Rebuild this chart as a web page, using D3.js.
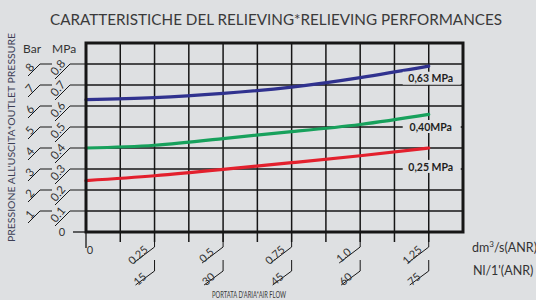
<!DOCTYPE html>
<html>
<head>
<meta charset="utf-8">
<script src="https://cdn.jsdelivr.net/npm/d3@7"></script>
<style>
  html, body { margin: 0; padding: 0; background: #dee0e2; }
  svg { display: block; }
</style>
</head>
<body>
<script>
// flow values (dm3/s ANR)
let flow = [0, 0.25, 0.5, 0.75, 1.0, 1.25]
let p063 = [0.63, 0.64, 0.66, 0.69, 0.735, 0.79]
let p040 = [0.40, 0.413, 0.445, 0.478, 0.512, 0.56]
let p025 = [0.245, 0.268, 0.298, 0.33, 0.363, 0.40]

let seriesNames = ['0,63 MPa', '0,40MPa', '0,25 MPa']
let seriesColors = ['#30328f', '#17a15c', '#e3202d']

let xTicks = [0.25, 0.5, 0.75, 1.0, 1.25]
let xTickLabels = ['0.25', '0.5', '0.75', '1.0', '1.25']
let nlTickLabels = ['15', '30', '45', '60', '75']
let yTicks = [0.1, 0.2, 0.3, 0.4, 0.5, 0.6, 0.7, 0.8]
let barLabels = ['1', '2', '3', '4', '5', '6', '7', '8']
let mpaLabels = ['0.1', '0.2', '0.3', '0.4', '0.5', '0.6', '0.7', '0.8']

let width = 536
let height = 300
let margin = ({top: 43, right: 73, bottom: 68, left: 86})

let x = d3.scaleLinear()
    .domain([0, 1.375])
    .range([margin.left, width - margin.right])

let y = d3.scaleLinear()
    .domain([0, 0.9])
    .range([height - margin.bottom, margin.top])

const svg = d3.select('body').append('svg')
    .attr('width', width)
    .attr('height', height)
    .attr('viewBox', [0, 0, width, height])
    .style('font-family', 'Lato, "Open Sans", sans-serif')

const ink = '#161616'
const textCol = '#333'

// grid
svg.append('g')
    .attr('stroke', ink)
    .attr('stroke-width', 1.5)
  .selectAll('line')
  .data(d3.range(1, 11).map(i => i * 0.125))
  .join('line')
    .attr('x1', d => x(d)).attr('x2', d => x(d))
    .attr('y1', y(0)).attr('y2', y(0) + 10)
    .clone()
    .attr('y1', y(0.9)).attr('y2', y(0))

svg.append('g')
    .attr('stroke', ink)
    .attr('stroke-width', 1.5)
  .selectAll('line')
  .data(yTicks)
  .join('line')
    .attr('x1', x(0)).attr('x2', x(1.375))
    .attr('y1', d => y(d)).attr('y2', d => y(d))

// curves
let line = d3.line()
    .x((d, i) => x(flow[i]))
    .y(d => y(d))
    .curve(d3.curveNatural)

svg.append('g')
    .attr('fill', 'none')
    .attr('stroke-width', 3.2)
    .attr('stroke-linecap', 'round')
  .selectAll('path')
  .data([p063, p040, p025])
  .join('path')
    .attr('stroke', (d, i) => seriesColors[i])
    .attr('d', line)

// frame
svg.append('rect')
    .attr('x', x(0)).attr('y', y(0.9))
    .attr('width', x(1.375) - x(0))
    .attr('height', y(0) - y(0.9))
    .attr('fill', 'none')
    .attr('stroke', ink)
    .attr('stroke-width', 3)

// origin leaders
svg.append('line')
    .attr('x1', x(0) - 13).attr('x2', x(0))
    .attr('y1', y(0)).attr('y2', y(0))
    .attr('stroke', ink).attr('stroke-width', 1.3)
svg.append('line')
    .attr('x1', x(0)).attr('x2', x(0))
    .attr('y1', y(0)).attr('y2', y(0) + 16)
    .attr('stroke', ink).attr('stroke-width', 1.3)
svg.append('text')
    .attr('x', x(0) - 24).attr('y', y(0) + 4)
    .attr('fill', textCol).style('font-size', '11px')
    .attr('text-anchor', 'middle')
    .text('0')
svg.append('text')
    .attr('x', x(0) + 4).attr('y', y(0) + 22)
    .attr('fill', textCol).style('font-size', '11px')
    .attr('text-anchor', 'middle')
    .text('0')

// y tick leaders, Bar and MPa
let yAxis = svg.append('g')
    .attr('stroke', ink).attr('stroke-width', 1)
    .style('font-size', '11.5px')

function yLeader(g, xh0, xh1, len, labels, tx, rot) {
  let t = g.append('g').selectAll('g').data(yTicks).join('g')
  t.append('path')
      .attr('fill', 'none')
      .attr('d', d => `M${xh1},${y(d)}H${xh0}l${-len},${len}`)
  t.append('text')
      .attr('stroke', 'none')
      .attr('fill', textCol)
      .attr('text-anchor', 'middle')
      .attr('transform', d => `translate(${tx},${y(d) + 6}) rotate(${rot})`)
      .text((d, i) => labels[i])
}
yLeader(yAxis, 40, 52, 12, barLabels, 33, -50)
yLeader(yAxis, 70, x(0), 15, mpaLabels, 61, -50)

svg.append('text').attr('x', 23).attr('y', 53)
    .attr('fill', textCol).style('font-size', '12px').text('Bar')
svg.append('text').attr('x', 52).attr('y', 53)
    .attr('fill', textCol).style('font-size', '12px').text('MPa')

// x tick leaders
let xAxis = svg.append('g')
    .attr('stroke', ink).attr('stroke-width', 1)
    .style('font-size', '11px')
let xt = xAxis.selectAll('g').data(xTicks).join('g')
xt.append('path')
    .attr('fill', 'none')
    .attr('d', d => `M${x(d)},${y(0)}V${y(0) + 15}l-21,16`)
xt.append('path')
    .attr('fill', 'none')
    .attr('d', d => `M${x(d)},${y(0) + 28}v11l-19,14`)
xt.append('text')
    .attr('stroke', 'none').attr('fill', textCol)
    .attr('text-anchor', 'middle')
    .attr('transform', d => `translate(${x(d) - 14},${y(0) + 26}) rotate(-42)`)
    .text((d, i) => xTickLabels[i])
xt.append('text')
    .attr('stroke', 'none').attr('fill', textCol)
    .attr('text-anchor', 'middle')
    .attr('transform', d => `translate(${x(d) - 12},${y(0) + 50}) rotate(-42)`)
    .text((d, i) => nlTickLabels[i])

// curve labels with background boxes
let labelY = [y(0.73), y(0.5), y(0.31)]
let lab = svg.append('g').selectAll('g').data(seriesNames).join('g')
    .attr('transform', (d, i) => `translate(${x(1.25) + 2},${labelY[i]})`)
lab.append('rect')
    .attr('x', -28).attr('y', -7)
    .attr('width', 58).attr('height', 13)
    .attr('fill', '#dee0e2')
lab.append('text')
    .attr('text-anchor', 'middle')
    .attr('dy', '0.35em')
    .attr('fill', '#1e1e1e')
    .style('font-size', '10.5px')
    .style('font-weight', 'bold')
    .text(d => d)

// units
svg.append('text').attr('x', 472).attr('y', 252)
    .attr('fill', textCol).style('font-size', '12.5px')
    .html('dm<tspan dy="-5" font-size="8">3</tspan><tspan dy="5">/s(ANR)</tspan>')
svg.append('text').attr('x', 473).attr('y', 275)
    .attr('fill', textCol).style('font-size', '12.5px')
    .text("Nl/1'(ANR)")

// titles
svg.append('text')
    .attr('x', 276).attr('y', 25)
    .attr('text-anchor', 'middle')
    .attr('fill', '#3a3a3a')
    .style('font-size', '15px')
    .attr('textLength', 452).attr('lengthAdjust', 'spacingAndGlyphs')
    .text('CARATTERISTICHE DEL RELIEVING*RELIEVING PERFORMANCES')

svg.append('text')
    .attr('transform', `translate(15,${(33 + 242) / 2}) rotate(-90)`)
    .attr('text-anchor', 'middle')
    .attr('fill', '#3c3e55')
    .style('font-size', '8.5px')
    .attr('textLength', 209).attr('lengthAdjust', 'spacingAndGlyphs')
    .text("PRESSIONE ALL'USCITA*OUTLET PRESSURE")

svg.append('text')
    .attr('x', 249).attr('y', 298)
    .attr('text-anchor', 'middle')
    .attr('fill', '#3a3a3a')
    .style('font-size', '8.5px')
    .attr('textLength', 74).attr('lengthAdjust', 'spacingAndGlyphs')
    .text("PORTATA D'ARIA*AIR FLOW")
</script>
</body>
</html>
